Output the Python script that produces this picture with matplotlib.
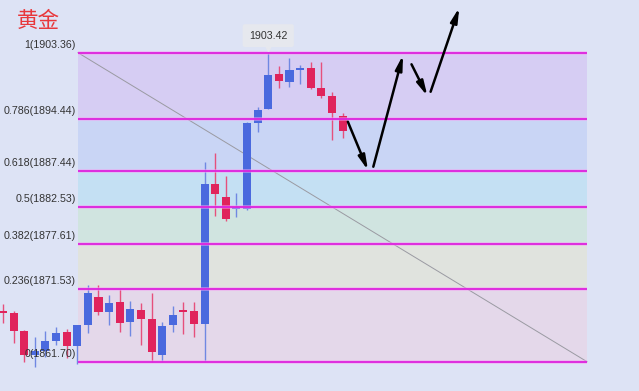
import matplotlib
matplotlib.use("Agg")
import matplotlib.pyplot as plt
import numpy as np

# ---- data ----
title = "黄金"
fib_ratios = ["1", "0.786", "0.618", "0.5", "0.382", "0.236", "0"]
fib_prices = [1903.36, 1894.44, 1887.44, 1882.53, 1877.61, 1871.53, 1861.70]
band_colors = ["#d6cdf3", "#c9d5f5", "#c4e0f3", "#d0e4e0", "#e0e3de", "#e4d8ea"]

opens  = [1868.57, 1868.26, 1865.88, 1862.60, 1863.18, 1864.53, 1865.74, 1863.86, 1866.65, 1870.46,
          1868.44, 1869.79, 1867.05, 1868.67, 1867.46, 1862.60, 1866.61, 1868.57, 1868.57, 1866.74,
          1885.62, 1883.95, 1882.25, 1882.29, 1893.92, 1895.73, 1900.49, 1899.45, 1901.03, 1901.34,
          1898.56, 1897.52, 1894.83]
highs  = [1869.48, 1868.53, 1865.97, 1865.03, 1865.84, 1866.38, 1866.11, 1866.65, 1872.04, 1872.04,
          1870.69, 1871.50, 1869.92, 1869.65, 1870.96, 1867.05, 1869.25, 1869.79, 1869.79, 1888.66,
          1889.84, 1886.74, 1884.44, 1894.00, 1896.08, 1903.42, 1901.57, 1902.65, 1901.70, 1902.15,
          1902.07, 1898.10, 1895.19]
lows   = [1866.92, 1864.22, 1861.66, 1860.98, 1862.33, 1863.95, 1862.20, 1861.39, 1865.57, 1868.00,
          1866.65, 1865.74, 1865.20, 1863.95, 1861.70, 1861.70, 1865.74, 1865.43, 1865.03, 1861.79,
          1881.34, 1880.67, 1881.25, 1882.20, 1892.71, 1895.73, 1898.60, 1898.74, 1899.14, 1898.47,
          1897.21, 1891.59, 1891.82]
closes = [1868.22, 1865.84, 1862.60, 1863.18, 1864.53, 1865.57, 1863.82, 1866.65, 1870.96, 1868.40,
          1869.65, 1866.96, 1868.80, 1867.46, 1863.01, 1866.55, 1868.00, 1868.40, 1866.74, 1885.62,
          1884.27, 1880.94, 1882.52, 1893.92, 1895.63, 1900.35, 1899.58, 1901.03, 1901.16, 1898.64,
          1897.52, 1895.19, 1892.84]

high_label = "1903.42"
high_index = 25

# projected path arrows: (x0, p0, x1, p1) in bar-index / price units
arrows_x0 = [32.5, 34.9, 38.5, 40.3]
arrows_p0 = [1894.06, 1887.99, 1901.80, 1898.10]
arrows_x1 = [34.4, 37.7, 40.0, 43.0]
arrows_p1 = [1887.50, 1903.05, 1897.52, 1909.45]

# fib range in bar-index units
fib_x_start = 7.07
fib_x_end = 55.04

# ---- plot ----
bg = "#dde3f5"
fig = plt.figure(figsize=(6.39, 3.91), dpi=100, facecolor=bg)
ax = fig.add_axes([0, 0, 1, 1])
ax.set_facecolor(bg)
ax.set_xlim(-0.283, 59.94)
ax.set_ylim(1857.75, 1910.47)
ax.axis("off")

# bands
for k in range(len(band_colors)):
    ax.fill_between([fib_x_start, fib_x_end], fib_prices[k + 1], fib_prices[k],
                    color=band_colors[k], lw=0, zorder=0)

# diagonal
ax.plot([fib_x_start, fib_x_end], [fib_prices[0], fib_prices[-1]], color="#9a9aa2", lw=0.7, zorder=1)

# candles
red_body, red_wick = "#e0245c", "#e6507c"
blue_body, blue_wick = "#4a69de", "#7088e2"
x = np.arange(len(opens))
for i in x:
    o, h, l, c = opens[i], highs[i], lows[i], closes[i]
    up = c >= o
    bc = blue_body if up else red_body
    wc = blue_wick if up else red_wick
    ax.vlines(i, l, h, color=wc, lw=1.0, zorder=2)
    bot = min(o, c)
    ht = max(abs(c - o), 0.22)
    ax.bar(i, ht, bottom=bot, width=0.76, color=bc, lw=0, zorder=2.5)

# fib lines
for r, p in zip(fib_ratios, fib_prices):
    ax.plot([fib_x_start, fib_x_end], [p, p], color="#f4a0f4", lw=2.6, alpha=0.6, zorder=3,
            solid_capstyle="butt")
    ax.plot([fib_x_start, fib_x_end], [p, p], color="#dd22dd", lw=1.3, zorder=3.1,
            solid_capstyle="butt")
    ax.annotate(f"{r}({p:.2f})", xy=(fib_x_start, p), xytext=(-1.5, 5.6),
                textcoords="offset points", ha="right", va="center",
                fontsize=7.7, family="Liberation Sans", color="#333333", zorder=5)

# high label
ax.annotate(high_label, xy=(high_index, highs[high_index]), xytext=(0, 12),
            textcoords="offset points", ha="center", va="center",
            fontsize=7.7, family="Liberation Sans", color="#333333", zorder=6,
            bbox=dict(boxstyle="round,pad=0.6,rounding_size=0.2", fc="#e6e8ee", ec="none"))
ax.plot(high_index, highs[high_index] + 0.55, marker="v", ms=5, color="#e6e8ee", zorder=5.5)

# arrows
for x0, p0, x1, p1 in zip(arrows_x0, arrows_p0, arrows_x1, arrows_p1):
    ax.annotate("", xy=(x1, p1), xytext=(x0, p0),
                arrowprops=dict(arrowstyle="-|>,head_length=0.85,head_width=0.2",
                                color="black", lw=1.8, shrinkA=0, shrinkB=0),
                zorder=7)

fig.text(17 / 639, 1 - 21 / 391, title, fontsize=15.5, color="#e8383c",
         family=["Noto Sans CJK SC", "DejaVu Sans"], ha="left", va="center")

fig.savefig("out.png", dpi=100, facecolor=bg)
